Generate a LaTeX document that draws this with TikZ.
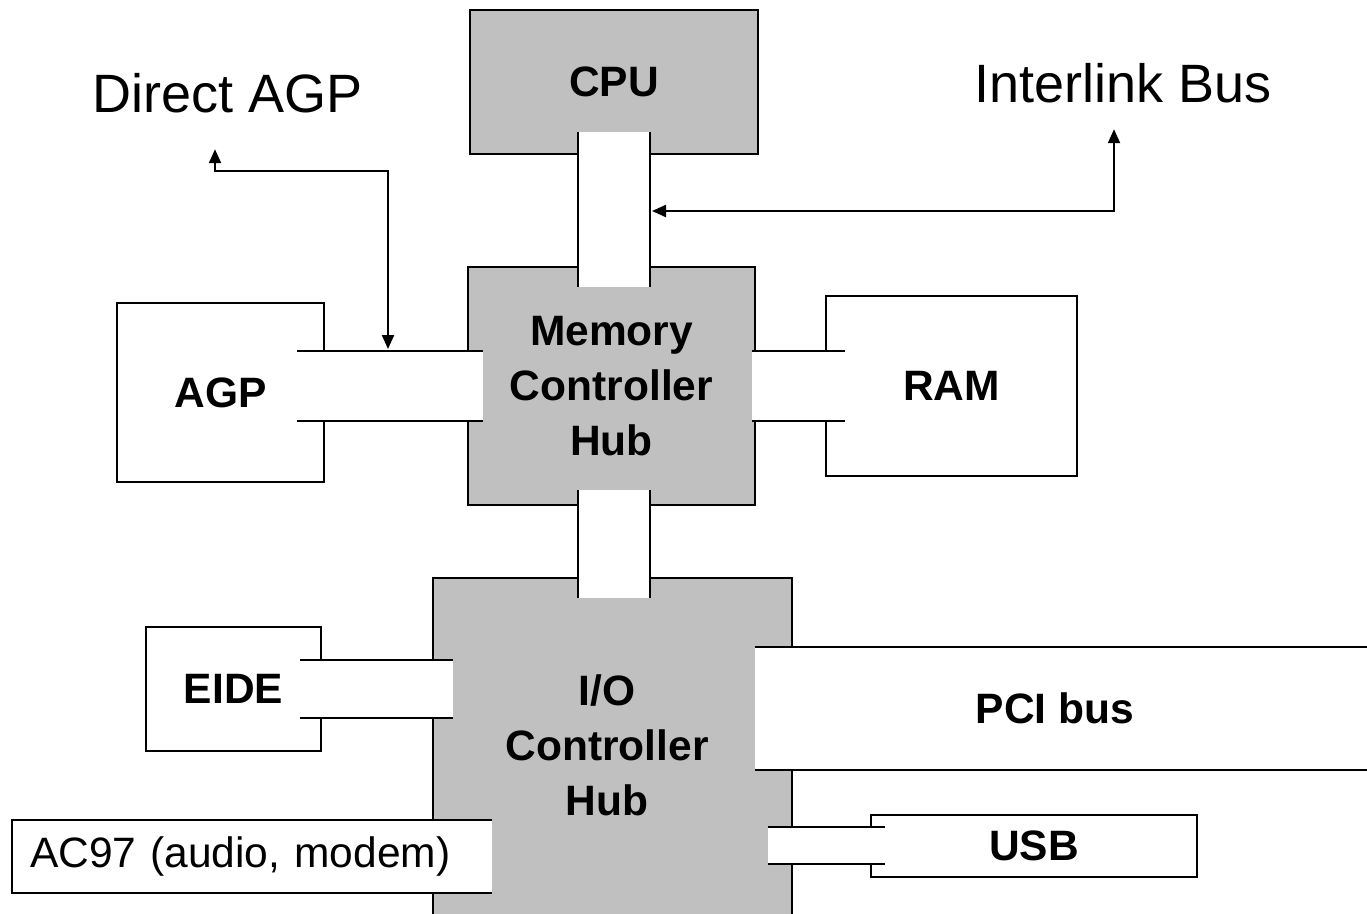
\documentclass[tikz,border=0pt]{standalone}
\usepackage{fontspec}
\setmainfont{Liberation Sans}
\usetikzlibrary{arrows.meta, positioning, calc}
\definecolor{HubGray}{HTML}{C0C0C0}

\begin{document}
\begin{tikzpicture}[
  x=1pt, y=-1pt,
  line width=2.8pt,
  >={Triangle[length=14pt, width=12pt]},
  chipbox/.style={draw, fill=HubGray, anchor=north west, inner sep=0pt, outer sep=0pt,
                  align=center, font=\bfseries\fontsize{42.5pt}{55pt}\selectfont},
  unitbox/.style={chipbox, fill=white},
  openbox/.style={fill=white, anchor=north west, inner sep=0pt, outer sep=0pt,
                  align=center, font=\bfseries\fontsize{42.5pt}{55pt}\selectfont},
  hubtext/.style={inner sep=0pt, align=center, font=\bfseries\fontsize{42.5pt}{55pt}\selectfont},
  toplabel/.style={inner sep=0pt, font=\fontsize{54pt}{60pt}\selectfont},
  signal/.style={<->, line width=2.2pt},
]
\clip (0,0) rectangle (1367,913);

% --- hubs ---
\node[chipbox, minimum width=288pt, minimum height=144pt] (cpu) at (470,10) {CPU};
\node[chipbox, minimum width=287pt, minimum height=238pt] (mch) at (468,267) {Memory\\Controller\\Hub};
\node[chipbox, minimum width=359pt, minimum height=360pt] (ich) at (433,578) {};
\node[hubtext] (ichtxt) at (607,745) {I/O\\Controller\\Hub};

% --- attached units ---
\node[unitbox, minimum width=207pt, minimum height=179pt] (agp) at (117,303) {AGP};
\node[unitbox, minimum width=251pt, minimum height=180pt] (ram) at (826,296) {RAM};
\node[unitbox, minimum width=175pt, minimum height=124pt] (eide) at (146,627) {EIDE};
\node[openbox, minimum width=614pt, minimum height=123pt] (pci) at (755,647) {PCI bus\hspace*{14pt}};
\node[unitbox, minimum width=326pt, minimum height=62pt] (usb) at (871,815) {USB};
\node[openbox, align=left, text width=444pt, inner xsep=18pt, minimum height=73pt,
      font=\fontsize{42.5pt}{48pt}\selectfont] (ac97) at (12,820) {AC97 (audio, modem)};
\draw (pci.north west) -- (pci.north east) (pci.south west) -- (pci.south east);
\draw (ac97.north east) -- (ac97.north west) -- (ac97.south west) -- (ac97.south east);

% --- bus bands ---
\coordinate (cmA) at ($(cpu.south)+(-36,-22)$);
\coordinate (cmB) at ($(cpu.south |- mch.north)+(36,20)$);
\coordinate (miA) at ($(cpu.south |- mch.south)+(-36,-15)$);
\coordinate (miB) at ($(cpu.south |- ich.north)+(36,20)$);
\coordinate (agA) at ($(agp.east |- mch.west)+(-27,-35)$);
\coordinate (agB) at ($(mch.west)+(15,35)$);
\coordinate (raA) at ($(mch.east)+(-3,-35)$);
\coordinate (raB) at ($(ram.west |- mch.east)+(19,35)$);
\coordinate (eiA) at ($(eide.east)+(-21,-29)$);
\coordinate (eiB) at ($(eide.east -| ich.west)+(20,29)$);
\coordinate (usA) at ($(ich.east |- usb.west)+(-24,-19)$);
\coordinate (usB) at ($(usb.west)+(14,18)$);

\foreach \a/\b in {cmA/cmB, miA/miB} {
  \fill[white] (\a) rectangle (\b);
  \draw (\a) -- (\a |- \b) (\b |- \a) -- (\b);
}
\foreach \a/\b in {agA/agB, raA/raB, eiA/eiB, usA/usB} {
  \fill[white] (\a) rectangle (\b);
  \draw (\a) -- (\b |- \a) (\a |- \b) -- (\b);
}

% --- signal paths ---
\node[toplabel] (dagp) at (228,93) {Direct AGP};
\node[toplabel] (ilbus) at (1123,83) {Interlink Bus};
\coordinate (agpin) at ($(agA)+(91,-2)$);
\coordinate (cmout) at ($(cmB |- cmA)+(2,79)$);
\draw[signal] ([shift={(-13,35)}]dagp.south) |- ++(173,22) -- (agpin);
\draw[signal] (cmout) -| ([shift={(-9,25)}]ilbus.south);

\end{tikzpicture}
\end{document}
